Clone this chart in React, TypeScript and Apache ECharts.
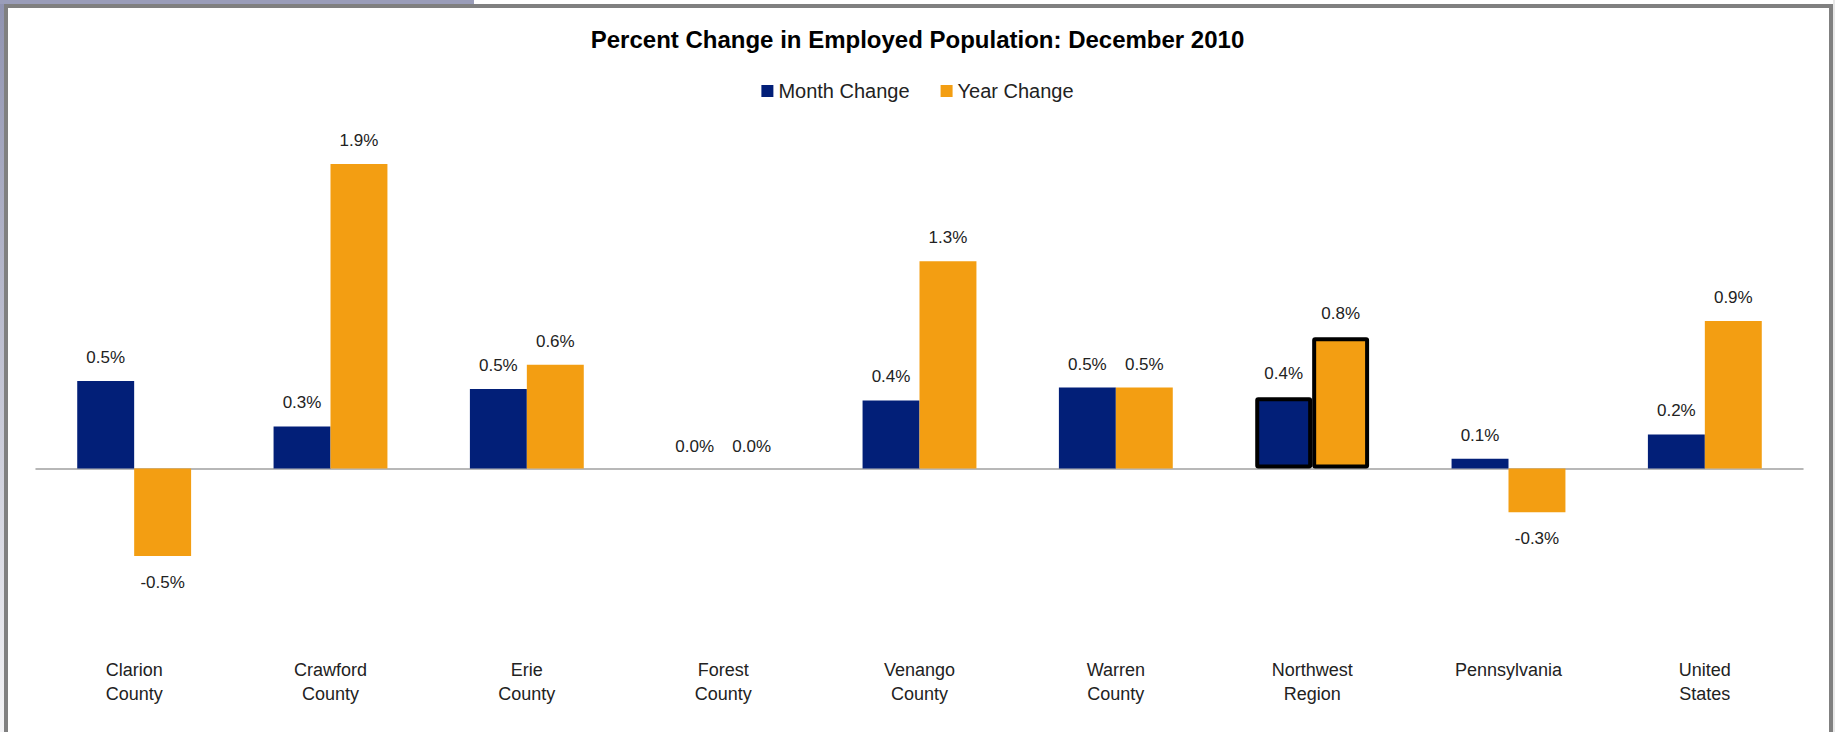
import React, { useEffect, useRef } from "react";
import * as echarts from "echarts";

const categories = [
  "Clarion\nCounty",
  "Crawford\nCounty",
  "Erie\nCounty",
  "Forest\nCounty",
  "Venango\nCounty",
  "Warren\nCounty",
  "Northwest\nRegion",
  "Pennsylvania",
  "United\nStates",
];
const monthChange = [0.54, 0.26, 0.49, 0.0, 0.42, 0.5, 0.44, 0.06, 0.21];
const yearChange = [-0.54, 1.88, 0.64, 0.0, 1.28, 0.5, 0.81, -0.27, 0.91];
const highlightIndex = 6;

const NAVY = "#021F78";
const ORANGE = "#F39E12";
const FONT = "'Liberation Sans', Arial, sans-serif";

export default function App() {
  const ref = useRef<HTMLDivElement>(null);
  useEffect(() => {
    if (!ref.current) return;
    const chart = echarts.init(ref.current, null, { renderer: "svg" });
    const mkData = (arr: number[]) =>
      arr.map((v, i) => {
        const item: any = { value: v };
        if (i === highlightIndex) {
          item.itemStyle = { borderColor: "#000", borderWidth: 4, borderRadius: 1 };
        }
        if (v === 0) item.label = { position: "top", distance: 14 };
        else if (v < 0) item.label = { position: "bottom", distance: 18 };
        return item;
      });
    const label = {
      show: true,
      position: "top" as any,
      distance: 15,
      fontFamily: FONT,
      fontSize: 17,
      color: "#222",
      formatter: (p: any) => `${Number(p.value).toFixed(1)}%`,
    };
    chart.setOption({
      animation: false,
      backgroundColor: "#ffffff",
      textStyle: { fontFamily: FONT },
      title: {
        text: "Percent Change in Employed Population: December 2010",
        left: "center",
        top: 22,
        textStyle: { fontFamily: FONT, fontSize: 24, fontWeight: "bold", color: "#000" },
      },
      legend: {
        top: 76,
        left: "center",
        icon: "rect",
        itemWidth: 12,
        itemHeight: 12,
        itemGap: 31,
        textStyle: { fontFamily: FONT, fontSize: 20, color: "#222" },
        data: ["Month Change", "Year Change"],
      },
      grid: { left: 36, right: 32, top: 144.5, bottom: 101.5 },
      xAxis: [
        {
          type: "category",
          data: categories,
          position: "bottom",
          axisLine: { show: true, onZero: true, lineStyle: { color: "#A0A0A0", width: 1.5 } },
          axisTick: { show: false },
          axisLabel: { show: false },
        },
        {
          type: "category",
          data: categories,
          position: "bottom",
          axisLine: { show: false, onZero: false },
          axisTick: { show: false },
          axisLabel: {
            show: true,
            interval: 0,
            margin: 27,
            fontFamily: FONT,
            fontSize: 18,
            lineHeight: 24,
            color: "#222",
          },
        },
      ],
      yAxis: {
        type: "value",
        min: -1,
        max: 2,
        show: false,
        splitLine: { show: false },
      },
      series: [
        {
          name: "Month Change",
          type: "bar",
          xAxisIndex: 0,
          data: mkData(monthChange),
          barGap: "0%",
          barCategoryGap: "42%",
          itemStyle: { color: NAVY },
          label,
        },
        {
          name: "Year Change",
          type: "bar",
          xAxisIndex: 0,
          data: mkData(yearChange),
          barGap: "0%",
          barCategoryGap: "42%",
          itemStyle: { color: ORANGE },
          label,
        },
      ],
      graphic: [
        {
          type: "rect",
          shape: { x: 0, y: 0, width: 5, height: 732 },
          style: {
            fill: new echarts.graphic.LinearGradient(0, 0, 0, 1, [
              { offset: 0, color: "#8F92B0" },
              { offset: 1, color: "#F4F4F6" },
            ]),
          },
          silent: true,
        },
        {
          type: "rect",
          shape: { x: 0, y: 0, width: 474, height: 4 },
          style: { fill: "#9A9DB9" },
          silent: true,
        },
        {
          type: "rect",
          shape: { x: 1833, y: 0, width: 2, height: 732 },
          style: { fill: "#E8E8E8" },
          silent: true,
        },
        {
          type: "rect",
          shape: { x: 6, y: 6, width: 1825, height: 780 },
          style: { fill: "none", stroke: "#808080", lineWidth: 4 },
          silent: true,
        },
      ],
    });
    return () => chart.dispose();
  }, []);
  return (
    <div
      ref={ref}
      style={{ position: "fixed", left: 0, top: 0, width: 1835, height: 732 }}
    />
  );
}
